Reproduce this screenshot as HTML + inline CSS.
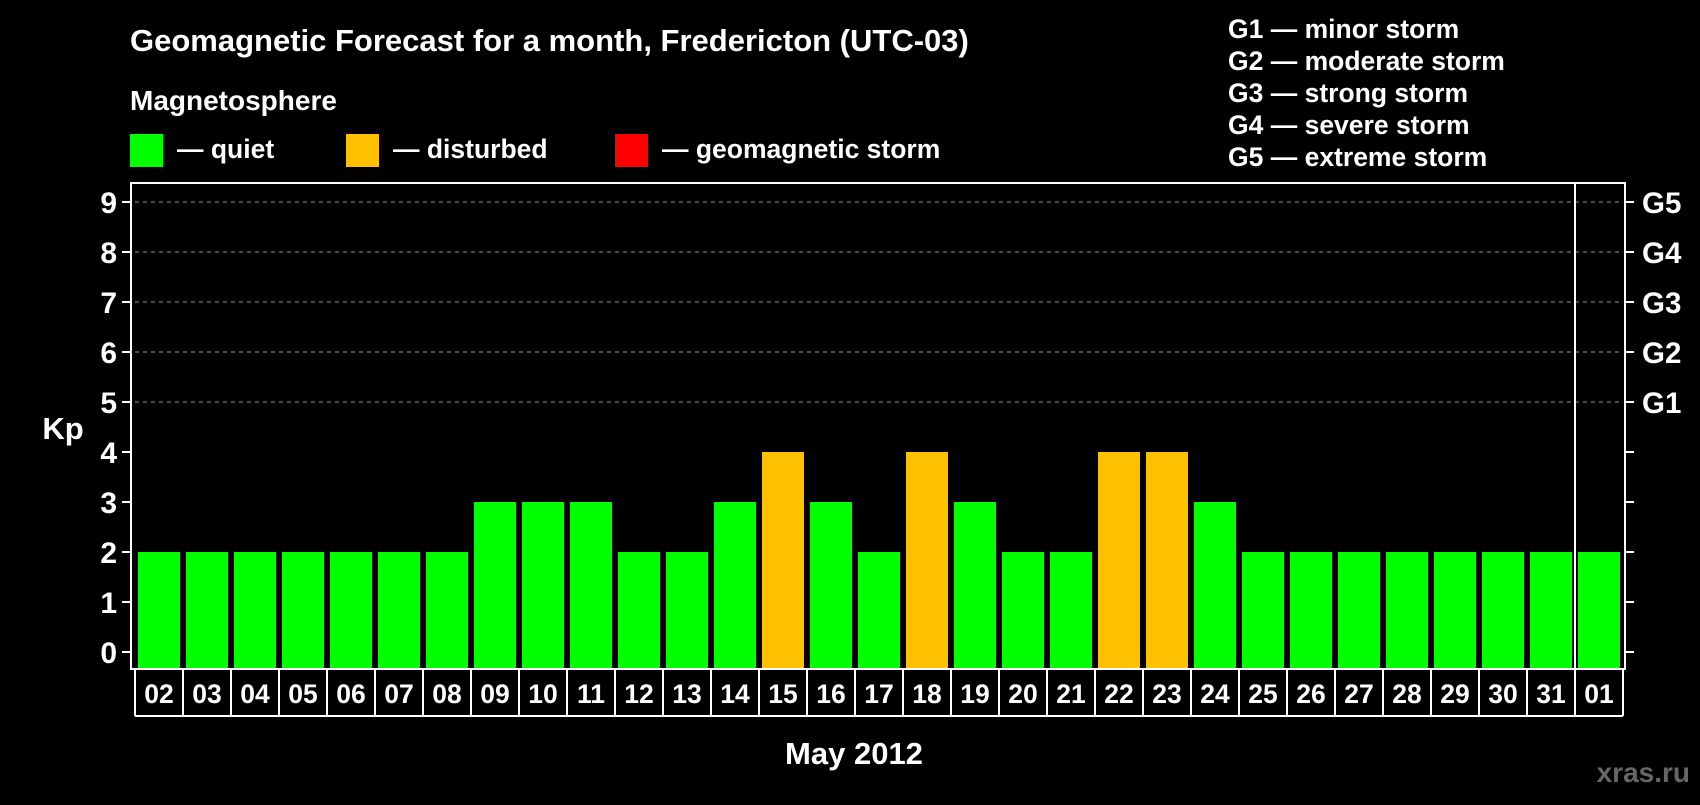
<!DOCTYPE html>
<html><head><meta charset="utf-8"><style>
body{margin:0;background:#000;width:1700px;height:800px;overflow:hidden;font-family:"Liberation Sans",Arial,sans-serif;font-weight:bold;color:#fff}
svg text{font-family:"Liberation Sans",Arial,sans-serif;font-weight:bold;fill:#fff}
</style></head><body>
<svg id="chart" width="1700" height="800">
<text x="130" y="51" font-size="31">Geomagnetic Forecast for a month, Fredericton (UTC-03)</text>
<text x="130" y="110" font-size="28">Magnetosphere</text>
<rect x="130" y="134" width="33" height="33" fill="#00ff00"/>
<text x="177" y="158" font-size="26.5">— quiet</text>
<rect x="346" y="134" width="33" height="33" fill="#ffc000"/>
<text x="393" y="158" font-size="26.5">— disturbed</text>
<rect x="615" y="134" width="33" height="33" fill="#ff0000"/>
<text x="662" y="158" font-size="26.5">— geomagnetic storm</text>
<g font-size="26.5">
<text x="1228" y="38">G1 — minor storm</text>
<text x="1228" y="70">G2 — moderate storm</text>
<text x="1228" y="102">G3 — strong storm</text>
<text x="1228" y="134">G4 — severe storm</text>
<text x="1228" y="166">G5 — extreme storm</text>
</g>
<text x="63" y="439" font-size="31" text-anchor="middle">Kp</text>
<text x="854" y="764" font-size="31" text-anchor="middle">May 2012</text>
<text x="1690" y="782" font-size="28" text-anchor="end" style="fill:#666">xras.ru</text>
<g id="plot"></g>
</svg>
<script>
const days=["02","03","04","05","06","07","08","09","10","11","12","13","14","15","16","17","18","19","20","21","22","23","24","25","26","27","28","29","30","31","01"];
const kp=[2,2,2,2,2,2,2,3,3,3,2,2,3,4,3,2,4,3,2,2,4,4,3,2,2,2,2,2,2,2,2];
const yTicks=[0,1,2,3,4,5,6,7,8,9];
const gLabels=["G1","G2","G3","G4","G5"];
const NS="http://www.w3.org/2000/svg";
const g=document.getElementById('plot');
const L=131,R=1625,T=183,B=669,pitch=48,x0=135,LB=716;
const y=v=>652-v*50;
const xc=i=>x0+i*pitch+24;
function mk(t,a){const e=document.createElementNS(NS,t);for(const k in a)e.setAttribute(k,a[k]);g.appendChild(e);return e;}
yTicks.forEach(v=>{
 if(v>=5){const l=mk('line',{x1:L+4,x2:R-4,y1:y(v),y2:y(v),stroke:'#999','stroke-dasharray':'4,4','stroke-width':1});
 
 }
 mk('line',{x1:L-9,x2:L,y1:y(v),y2:y(v),stroke:'#fff','stroke-width':2});
 mk('line',{x1:R,x2:R+9,y1:y(v),y2:y(v),stroke:'#fff','stroke-width':2});
 const t=mk('text',{x:L-14,y:y(v)+11,'font-size':30,'text-anchor':'end'});t.textContent=v;
 
 
});
gLabels.forEach((s,i)=>{const t=mk('text',{x:1642,y:y(5+i)+11,'font-size':29.5});t.textContent=s;
 
 });
kp.forEach((v,i)=>{
 const col=v>=5?'#ff0000':v>=4?'#ffc000':'#00ff00';
 const r=mk('rect',{x:xc(i)-21,y:y(v),width:42,height:B-y(v),fill:col});
 
 
 const t=mk('text',{x:xc(i),y:703,'font-size':26.5,'text-anchor':'middle'});t.textContent=days[i];
 
 
 mk('line',{x1:x0+i*pitch,x2:x0+i*pitch,y1:B,y2:LB,stroke:'#fff','stroke-width':2});
});
mk('line',{x1:x0+days.length*pitch,x2:x0+days.length*pitch,y1:B,y2:LB,stroke:'#fff','stroke-width':2});
mk('line',{x1:x0,x2:x0+days.length*pitch,y1:LB,y2:LB,stroke:'#fff','stroke-width':2});
mk('rect',{x:L,y:T,width:R-L,height:B-T,fill:'none',stroke:'#fff','stroke-width':2});
mk('line',{x1:1575,x2:1575,y1:T,y2:B,stroke:'#fff','stroke-width':2});
</script>
</body></html>
